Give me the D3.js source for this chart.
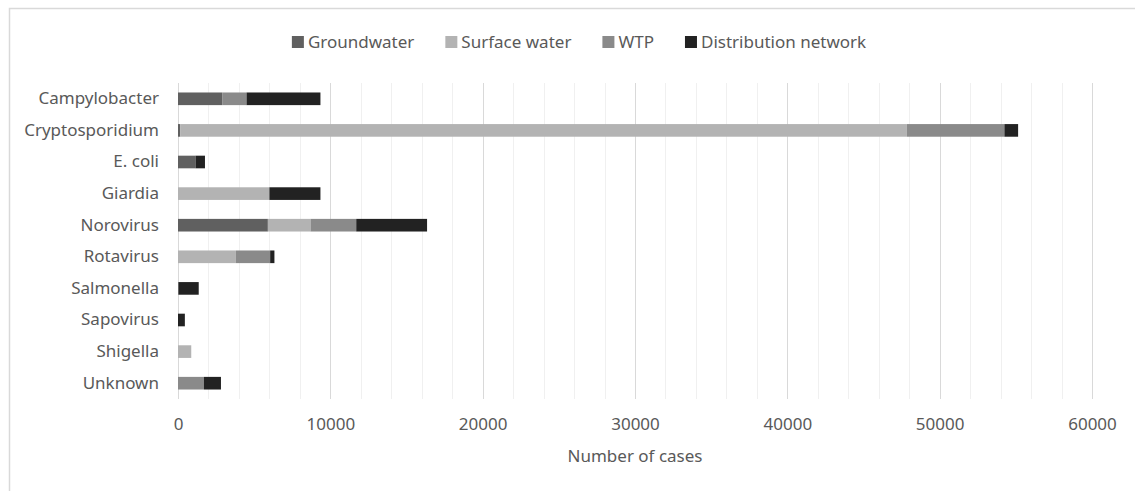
<!DOCTYPE html>
<html>
<head>
<meta charset="utf-8">
<script src="https://cdn.jsdelivr.net/npm/d3@7"></script>
<style>
  body { margin: 0; background: #fff; }
  text { font-family: "Noto Sans", "Open Sans", sans-serif; fill: #595959; }
</style>
</head>
<body>
<div id="chart"></div>
<script>
// pathogens, top to bottom
var categories = ['Campylobacter', 'Cryptosporidium', 'E. coli', 'Giardia', 'Norovirus',
                  'Rotavirus', 'Salmonella', 'Sapovirus', 'Shigella', 'Unknown'];
var seriesNames = ['Groundwater', 'Surface water', 'WTP', 'Distribution network'];
var seriesColors = ['#606060', '#b3b3b3', '#8a8a8a', '#222222'];

// number of cases per source
var groundwater  = [2900,   150, 1150,    0, 5900,    0,   60,   0,   0,    0];
var surfaceWater = [   0, 47700,    0, 6000, 2800, 3800,    0,   0, 870,    0];
var wtp          = [1600,  6400,    0,    0, 3000, 2250,    0,   0,   0, 1700];
var distribution = [4850,   900,  620, 3350, 4650,  280, 1300, 450,   0, 1120];

var xTicks = [0, 10000, 20000, 30000, 40000, 50000, 60000];

var W = 1135, H = 491;
var margin = {top: 83, right: 43, bottom: 92, left: 178};
var width = W - margin.left - margin.right,
    height = H - margin.top - margin.bottom;
var fontSize = '17px';

var rows = categories.map(function(c, i) {
  return {cat: c, Groundwater: groundwater[i], 'Surface water': surfaceWater[i],
          WTP: wtp[i], 'Distribution network': distribution[i]};
});
var stacked = d3.stack().keys(seriesNames)(rows);

var x = d3.scaleLinear().domain([0, 60000]).range([0, width]);
var y = d3.scaleBand().domain(categories).range([0, height]).paddingInner(0.6).paddingOuter(0.3);
var color = d3.scaleOrdinal().domain(seriesNames).range(seriesColors);

var svg = d3.select('#chart').append('svg')
  .attr('width', W).attr('height', H);

// outer frame (only left and top edges are visible in the picture)
svg.append('path')
  .attr('d', 'M9.5,' + H + 'V8.5H' + W)
  .attr('fill', 'none').attr('stroke', '#d9d9d9').attr('stroke-width', 1.5);

var g = svg.append('g').attr('transform', 'translate(' + margin.left + ',' + margin.top + ')');

// gridlines: minor every 2000, major every 10000
g.append('g').selectAll('line').data(d3.range(2000, 60001, 2000).filter(function(v) { return v % 10000; }))
  .enter().append('line')
  .attr('x1', function(d) { return Math.round(x(d)) + 0.5; })
  .attr('x2', function(d) { return Math.round(x(d)) + 0.5; })
  .attr('y1', 0).attr('y2', height)
  .attr('stroke', '#f0f0f0');
g.append('g').selectAll('line').data(xTicks.slice(1))
  .enter().append('line')
  .attr('x1', function(d) { return Math.round(x(d)) + 0.5; })
  .attr('x2', function(d) { return Math.round(x(d)) + 0.5; })
  .attr('y1', 0).attr('y2', height)
  .attr('stroke', '#d9d9d9');
g.append('line')
  .attr('x1', 0.5).attr('x2', 0.5).attr('y1', 0).attr('y2', height)
  .attr('stroke', '#d9d9d9');

// bars
g.append('g').selectAll('g').data(stacked)
  .enter().append('g')
  .attr('fill', function(d) { return color(d.key); })
  .selectAll('rect').data(function(d) { return d; })
  .enter().append('rect')
  .attr('x', function(d) { return x(d[0]); })
  .attr('y', function(d) { return y(d.data.cat); })
  .attr('width', function(d) { return x(d[1]) - x(d[0]); })
  .attr('height', y.bandwidth());

// y axis labels
var yAxis = d3.axisLeft(y).tickSize(0).tickPadding(19);
var yG = g.append('g').call(yAxis);
yG.select('.domain').remove();
yG.selectAll('text').style('font-size', fontSize).style('font-family', null).attr('fill', null);

// x axis
var xAxis = d3.axisBottom(x).tickValues(xTicks).tickSize(0).tickPadding(19).tickFormat(d3.format('d'));
var xG = g.append('g').attr('transform', 'translate(0,' + height + ')').call(xAxis);
xG.select('.domain').remove();
xG.selectAll('text').style('font-size', fontSize).style('font-family', null).attr('fill', null);

svg.append('text')
  .attr('x', margin.left + width / 2).attr('y', 462)
  .attr('text-anchor', 'middle')
  .style('font-size', fontSize)
  .text('Number of cases');

// legend
var legend = svg.append('g');
var items = legend.selectAll('g').data(seriesNames).enter().append('g');
items.append('rect').attr('width', 12).attr('height', 12).attr('y', 36)
  .attr('fill', function(d) { return color(d); });
items.append('text').attr('x', 16).attr('y', 48)
  .style('font-size', fontSize).text(function(d) { return d; });
var pos = 0, gap = 31;
items.each(function() {
  d3.select(this).attr('transform', 'translate(' + pos + ',0)');
  pos += 16 + this.querySelector('text').getComputedTextLength() + gap;
});
legend.attr('transform', 'translate(' + (579 - (pos - gap) / 2) + ',0)');
</script>
</body>
</html>
